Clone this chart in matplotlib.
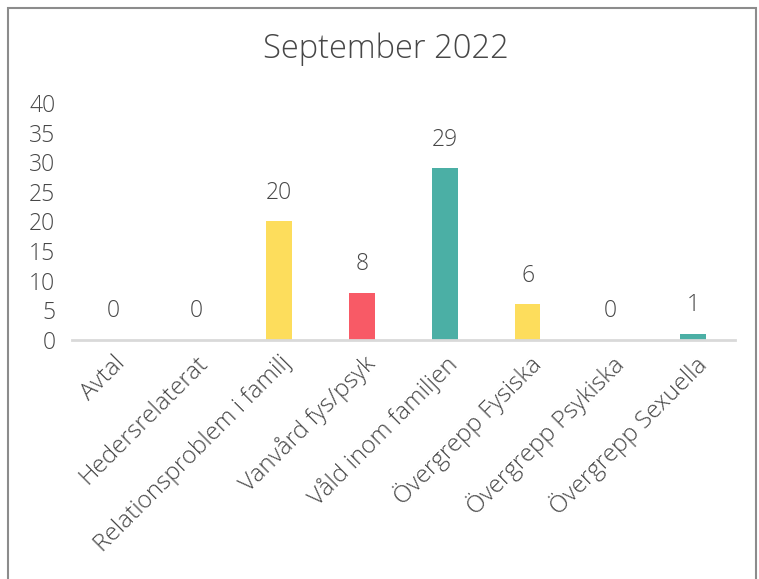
import matplotlib.pyplot as plt
from matplotlib.patches import Rectangle

# data
categories = ["Avtal", "Hedersrelaterat", "Relationsproblem i familj", "Vanvård fys/psyk",
              "Våld inom familjen", "Övergrepp Fysiska", "Övergrepp Psykiska", "Övergrepp Sexuella"]
values = [0, 0, 20, 8, 29, 6, 0, 1]
colors = ["#4BAFA5", "#4BAFA5", "#FDDD5C", "#F85A66", "#4BAFA5", "#FDDD5C", "#4BAFA5", "#4BAFA5"]
yticks = [0, 5, 10, 15, 20, 25, 30, 35, 40]

txt = "#474747"
plt.rcParams['font.family'] = ['Open Sans', 'DejaVu Sans']
plt.rcParams['font.weight'] = 'light'

fig = plt.figure(figsize=(7.59, 5.79), dpi=100)
ax = fig.add_axes([0.0949, 0.4128, 0.8731, 0.4093])

x = range(len(categories))
ax.bar(x, values, width=0.31, color=colors)
for xi, v in zip(x, values):
    ax.annotate(str(v), (xi, v), xytext=(0, 12), textcoords="offset points",
                ha="center", va="bottom", fontsize=16.5, color=txt)

ax.set_xlim(-0.5, len(categories) - 0.5)
ax.set_ylim(0, 40)
ax.set_yticks(yticks)
ax.set_xticks(list(x))
ax.set_xticklabels(categories, rotation=45, ha="right", rotation_mode="anchor")
ax.tick_params(axis="both", length=0, labelsize=16.5, labelcolor=txt)
ax.tick_params(axis="x", labelsize=17.5, pad=8)
ax.tick_params(axis="y", pad=12)
for s in ["top", "right", "left"]:
    ax.spines[s].set_visible(False)
ax.spines["bottom"].set_color("#D9D9D9")
ax.spines["bottom"].set_linewidth(2)

fig.text(0.508, 0.915, "September 2022", ha="center", va="center", fontsize=23.5, color=txt)

# outer border
fig.patches.append(Rectangle((8 / 759, -0.05), 748 / 759, 1.05 - 8 / 579,
                             transform=fig.transFigure, fill=False, edgecolor="#8C8C8C", linewidth=1.5))

fig.savefig("out.png", dpi=100)
